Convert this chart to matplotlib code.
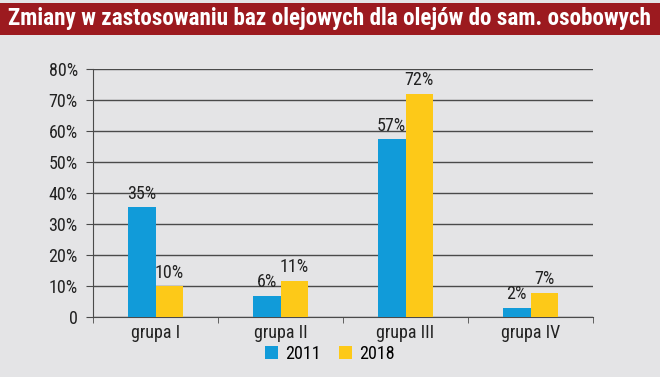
import matplotlib
matplotlib.use("Agg")
import matplotlib.pyplot as plt
import numpy as np
from matplotlib.patches import Rectangle
from matplotlib import font_manager

groups = ["grupa I", "grupa II", "grupa III", "grupa IV"]
years = ["2011", "2018"]
v2011 = [35.4, 6.8, 57.3, 3.0]
v2018 = [9.9, 11.7, 72.0, 7.9]
lab2011 = ["35%", "6%", "57%", "2%"]
lab2018 = ["10%", "11%", "72%", "7%"]
yticks = [0, 10, 20, 30, 40, 50, 60, 70, 80]
ylabels = ["0", "10%", "20%", "30%", "40%", "50%", "60%", "70%", "80%"]
title = "Zmiany w zastosowaniu baz olejowych dla olejów do sam. osobowych"

names = {f.name for f in font_manager.fontManager.ttflist}
fam = [f for f in ["Roboto Condensed", "Liberation Sans Narrow", "Roboto"] if f in names] + ["DejaVu Sans"]
plt.rcParams["font.family"] = fam

blue = "#119bd9"
yellow = "#fdc918"
bg = "#e4e4e6"
grid = "#4a4a4a"
txt = "#222222"

fig = plt.figure(figsize=(6.6, 3.77), dpi=100, facecolor=bg)
# title band
fig.patches.append(Rectangle((0, 1 - 35/377), 1, 32/377, transform=fig.transFigure,
                             facecolor="#9c1a1f", edgecolor="none"))
fig.text(0.5, 1 - 19/377, title, color="white", fontsize=16.7, fontweight="bold",
         ha="center", va="center")

ax = fig.add_axes([93/660, 1 - 317/377, 500/660, 248/377])
ax.set_facecolor(bg)
x = np.arange(len(groups))
w = 0.22
ax.bar(x - w/2, v2011, w, color=blue, label=years[0], zorder=3)
ax.bar(x + w/2, v2018, w, color=yellow, label=years[1], zorder=3)
for i in range(len(groups)):
    ax.text(x[i] - w/2, v2011[i] + 1.5, lab2011[i], ha="center", va="bottom", fontsize=13, color=txt)
    ax.text(x[i] + w/2, v2018[i] + 1.5, lab2018[i], ha="center", va="bottom", fontsize=13, color=txt)

ax.set_xlim(-0.5, len(groups) - 0.5)
ax.set_ylim(0, 80)
ax.set_yticks(yticks)
ax.set_yticklabels(ylabels, fontsize=13, color=txt)
ax.yaxis.grid(True, color=grid, lw=1)
ax.set_axisbelow(True)
ax.set_xticks(x)
ax.set_xticklabels(groups, fontsize=13, color=txt)
ax.set_xticks(np.arange(-0.5, len(groups)), minor=True)
ax.tick_params(axis="x", which="major", length=0, pad=5)
ax.tick_params(axis="x", which="minor", length=4, color=grid, direction="out")
ax.tick_params(axis="y", length=5, color=grid, pad=6)
for s in ["top", "right"]:
    ax.spines[s].set_visible(False)
for s in ["left", "bottom"]:
    ax.spines[s].set_color(grid)

fig.legend(loc="center", bbox_to_anchor=(0.5, 1 - 354/377), ncol=2, frameon=False,
           fontsize=13, handlelength=0.7, handleheight=0.7, columnspacing=1.0, handletextpad=0.4)

fig.savefig("out.png", dpi=100, facecolor=bg)
